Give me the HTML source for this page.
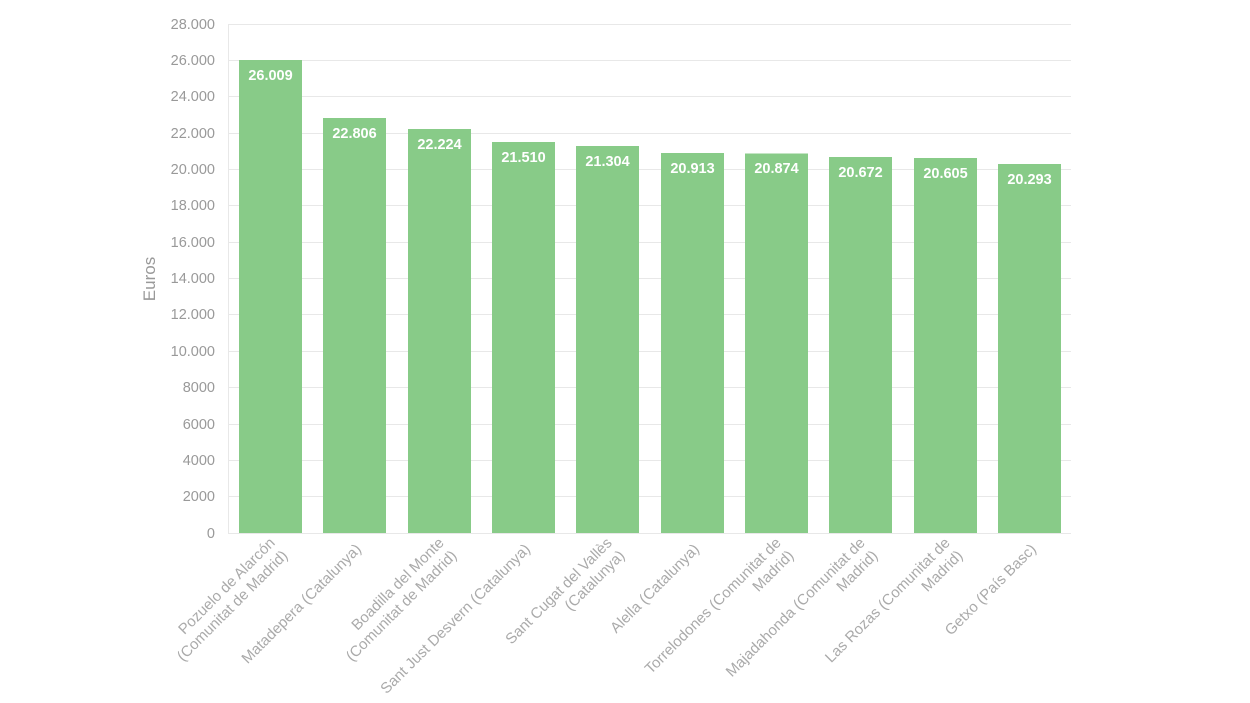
<!DOCTYPE html>
<html><head><meta charset="utf-8"><style>
body{margin:0;background:#fff;}
svg{display:block;font-family:"Liberation Sans",sans-serif;}
</style></head><body>
<svg width="1250" height="703" viewBox="0 0 1250 703">
<g stroke="#e8e8e8" stroke-width="1">
<line x1="228" x2="1071" y1="24.5" y2="24.5"/><line x1="228" x2="1071" y1="60.5" y2="60.5"/><line x1="228" x2="1071" y1="96.5" y2="96.5"/><line x1="228" x2="1071" y1="133.5" y2="133.5"/><line x1="228" x2="1071" y1="169.5" y2="169.5"/><line x1="228" x2="1071" y1="205.5" y2="205.5"/><line x1="228" x2="1071" y1="242.5" y2="242.5"/><line x1="228" x2="1071" y1="278.5" y2="278.5"/><line x1="228" x2="1071" y1="314.5" y2="314.5"/><line x1="228" x2="1071" y1="351.5" y2="351.5"/><line x1="228" x2="1071" y1="387.5" y2="387.5"/><line x1="228" x2="1071" y1="424.5" y2="424.5"/><line x1="228" x2="1071" y1="460.5" y2="460.5"/><line x1="228" x2="1071" y1="496.5" y2="496.5"/><line x1="228" x2="1071" y1="533.5" y2="533.5"/>
<line x1="228.5" x2="228.5" y1="24" y2="533"/>
</g>
<g fill="#999" font-size="14.5" text-anchor="end">
<text x="215" y="29">28.000</text><text x="215" y="65">26.000</text><text x="215" y="101">24.000</text><text x="215" y="138">22.000</text><text x="215" y="174">20.000</text><text x="215" y="210">18.000</text><text x="215" y="247">16.000</text><text x="215" y="283">14.000</text><text x="215" y="319">12.000</text><text x="215" y="356">10.000</text><text x="215" y="392">8000</text><text x="215" y="429">6000</text><text x="215" y="465">4000</text><text x="215" y="501">2000</text><text x="215" y="538">0</text>
</g>
<text transform="translate(155,279) rotate(-90)" fill="#999" font-size="17" text-anchor="middle">Euros</text>
<g fill="#88cb88">
<rect x="239" y="60" width="63" height="473"/>
<rect x="323" y="118" width="63" height="415"/>
<rect x="408" y="129" width="63" height="404"/>
<rect x="492" y="142" width="63" height="391"/>
<rect x="576" y="146" width="63" height="387"/>
<rect x="661" y="153" width="63" height="380"/>
<rect x="745" y="153.5" width="63" height="379.5"/>
<rect x="829" y="157" width="63" height="376"/>
<rect x="914" y="158" width="63" height="375"/>
<rect x="998" y="164" width="63" height="369"/>
</g>
<g fill="#fff" font-size="14.5" font-weight="bold" text-anchor="middle">
<text x="270.5" y="80">26.009</text><text x="354.5" y="138">22.806</text><text x="439.5" y="149">22.224</text><text x="523.5" y="162">21.510</text><text x="607.5" y="166">21.304</text><text x="692.5" y="173">20.913</text><text x="776.5" y="173">20.874</text><text x="860.5" y="177">20.672</text><text x="945.5" y="178">20.605</text><text x="1029.5" y="184">20.293</text>
</g>
<g fill="#aaa" font-size="15" text-anchor="end">
<text transform="translate(280,548) rotate(-45)"><tspan x="0" y="-6">Pozuelo de Alarcón</tspan><tspan x="0" y="12">(Comunitat de Madrid)</tspan></text>
<text transform="translate(362,550) rotate(-45)">Matadepera (Catalunya)</text>
<text transform="translate(449,548) rotate(-45)"><tspan x="0" y="-6">Boadilla del Monte</tspan><tspan x="0" y="12">(Comunitat de Madrid)</tspan></text>
<text transform="translate(531,550) rotate(-45)">Sant Just Desvern (Catalunya)</text>
<text transform="translate(617,548) rotate(-45)"><tspan x="0" y="-6">Sant Cugat del Vallès</tspan><tspan x="0" y="12">(Catalunya)</tspan></text>
<text transform="translate(700,550) rotate(-45)">Alella (Catalunya)</text>
<text transform="translate(786,548) rotate(-45)"><tspan x="0" y="-6">Torrelodones (Comunitat de</tspan><tspan x="0" y="12">Madrid)</tspan></text>
<text transform="translate(870,548) rotate(-45)"><tspan x="0" y="-6">Majadahonda (Comunitat de</tspan><tspan x="0" y="12">Madrid)</tspan></text>
<text transform="translate(955,548) rotate(-45)"><tspan x="0" y="-6">Las Rozas (Comunitat de</tspan><tspan x="0" y="12">Madrid)</tspan></text>
<text transform="translate(1037,550) rotate(-45)">Getxo (País Basc)</text>
</g>
</svg>
</body></html>
